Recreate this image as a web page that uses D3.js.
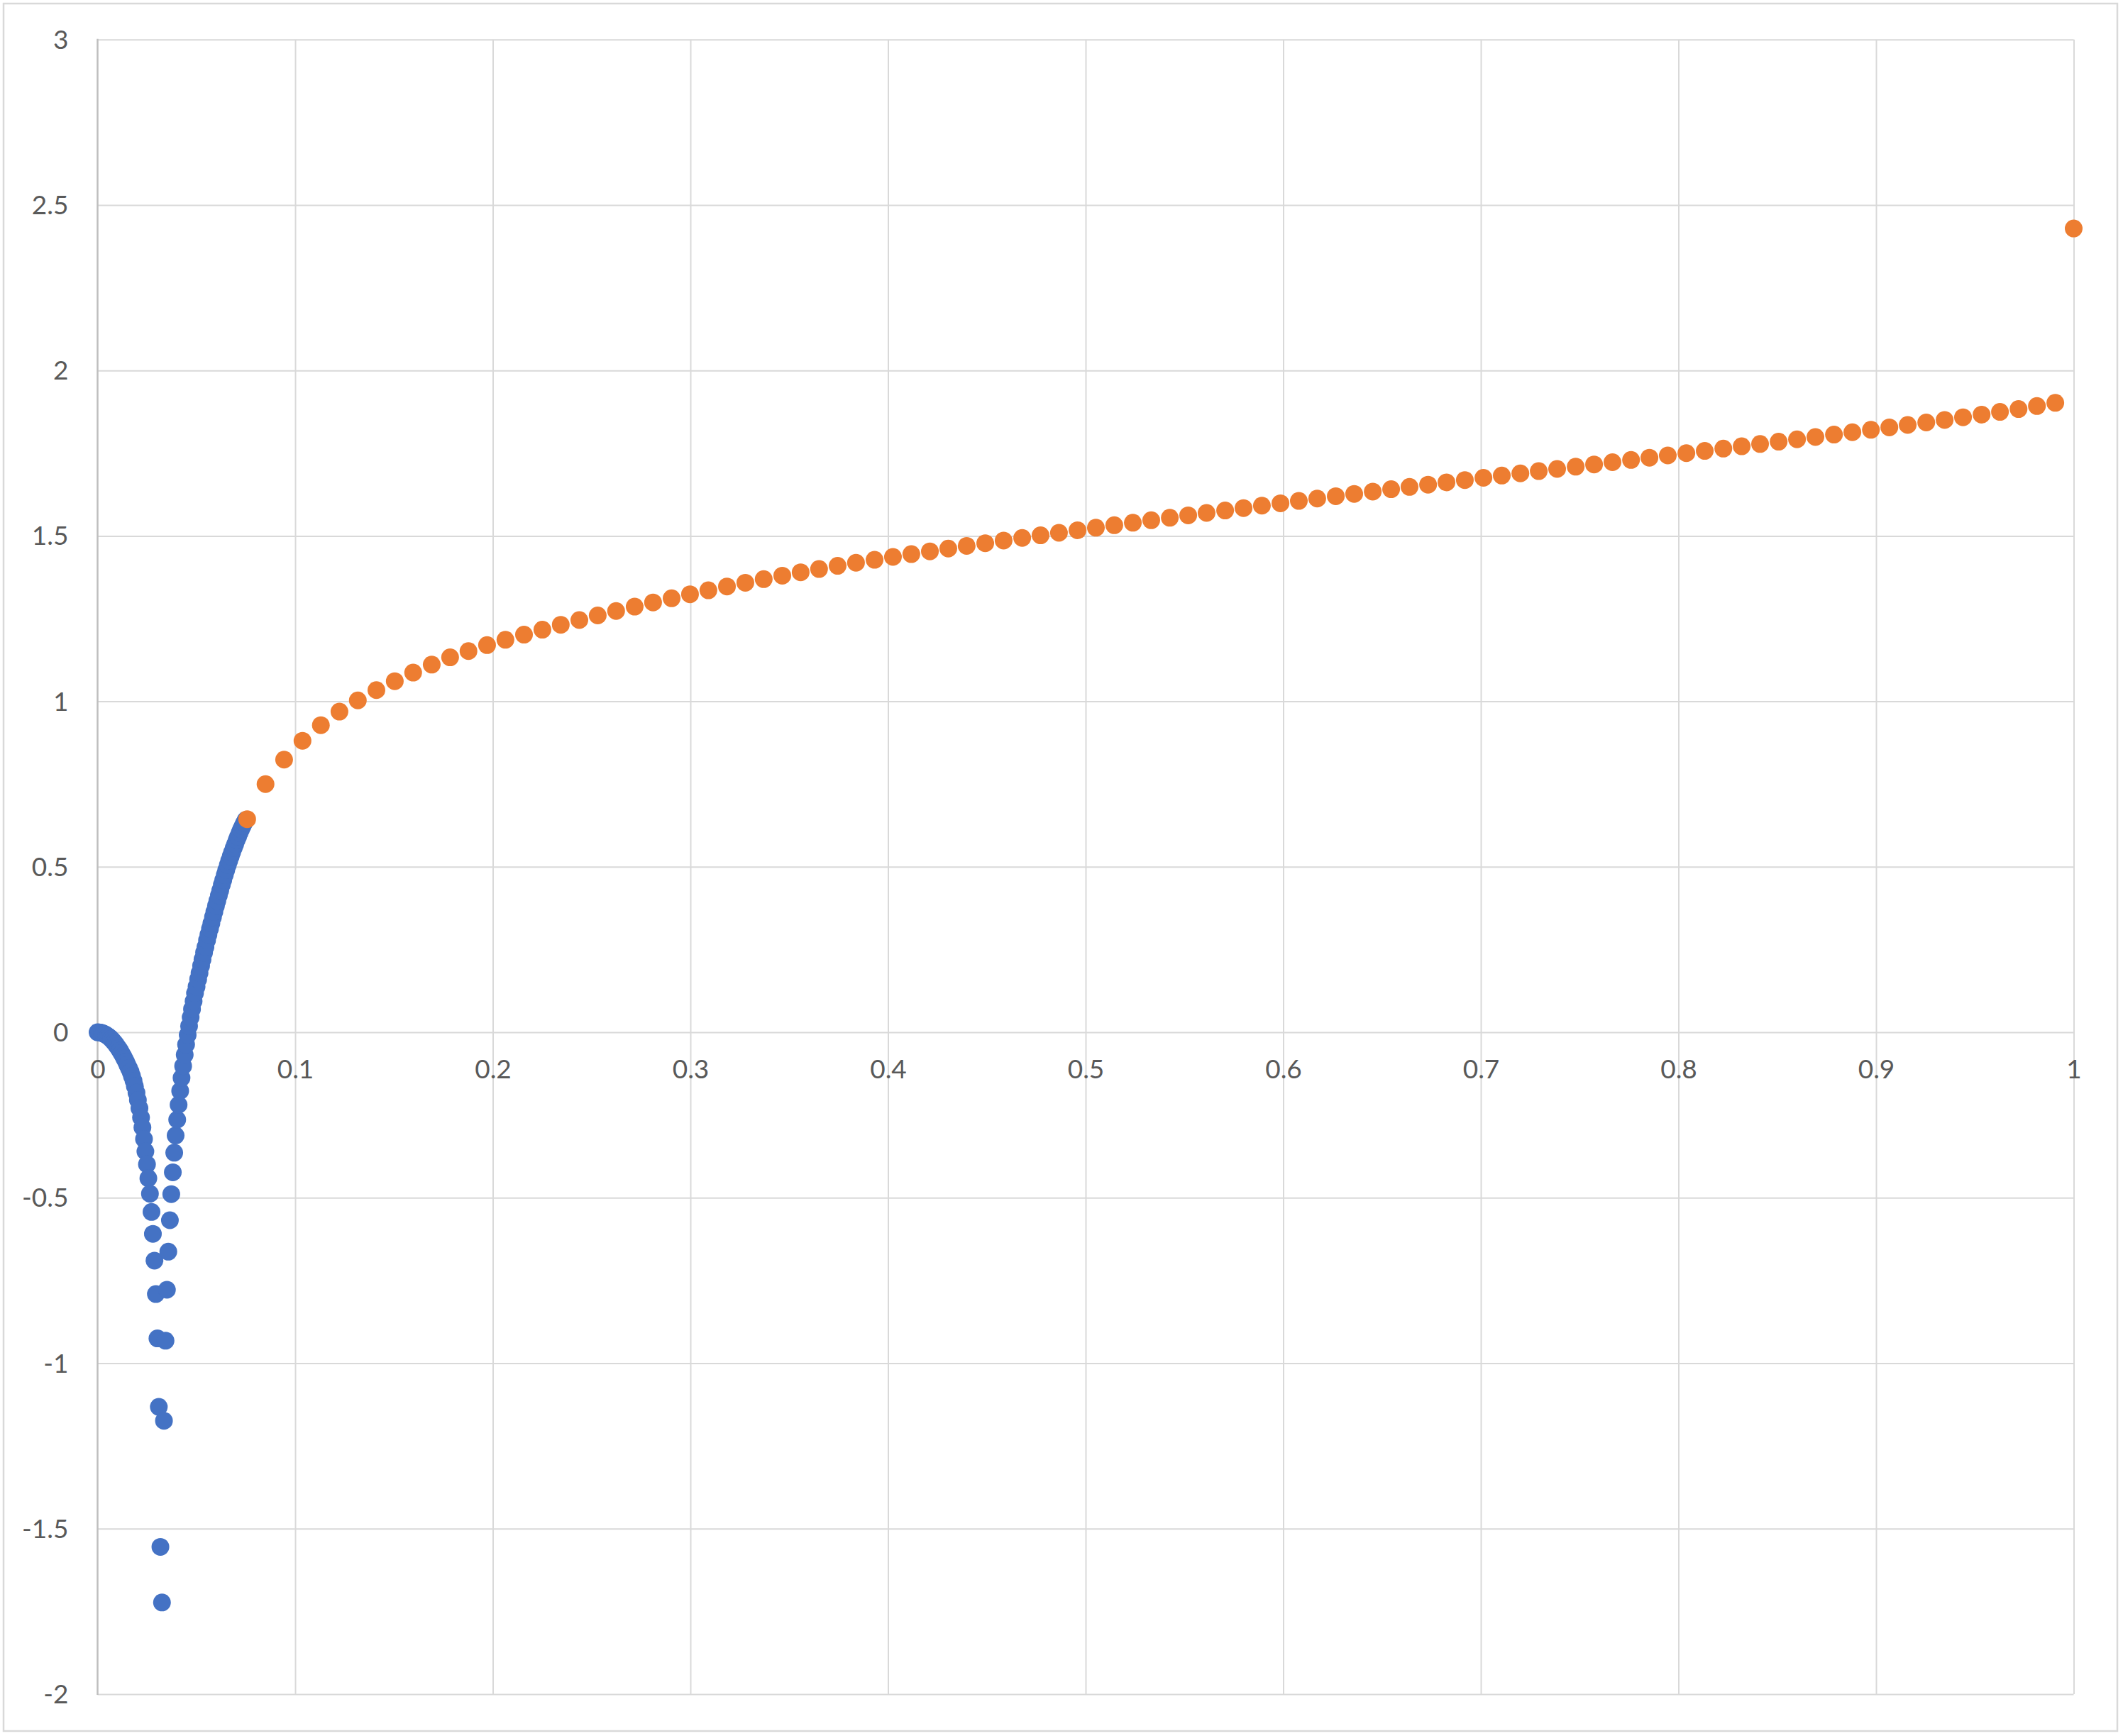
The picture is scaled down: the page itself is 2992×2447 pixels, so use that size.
<!DOCTYPE html>
<html>
<head>
<meta charset="utf-8">
<script src="https://cdn.jsdelivr.net/npm/d3@7"></script>
<style>
  html, body { margin: 0; padding: 0; background: #ffffff; }
  svg { display: block; }
</style>
</head>
<body>
<svg id="chart" width="2992" height="2447"></svg>
<script>
// ---- tick values and labels ----
const xTickValues = [0, 0.1, 0.2, 0.3, 0.4, 0.5, 0.6, 0.7, 0.8, 0.9, 1];
const xTickLabels = ["0", "0.1", "0.2", "0.3", "0.4", "0.5", "0.6", "0.7", "0.8", "0.9", "1"];
const yTickValues = [3, 2.5, 2, 1.5, 1, 0.5, 0, -0.5, -1, -1.5, -2];
const yTickLabels = ["3", "2.5", "2", "1.5", "1", "0.5", "0", "-0.5", "-1", "-1.5", "-2"];

// ---- series 1 (blue) ----
const blueX = [
  0.0000, 0.0008, 0.0015, 0.0023, 0.0030, 0.0038, 0.0045, 0.0053, 0.0061, 0.0068,
  0.0076, 0.0083, 0.0091, 0.0098, 0.0106, 0.0114, 0.0121, 0.0129, 0.0136, 0.0144,
  0.0151, 0.0159, 0.0167, 0.0174, 0.0182, 0.0189, 0.0197, 0.0204, 0.0212, 0.0220,
  0.0227, 0.0235, 0.0242, 0.0250, 0.0257, 0.0265, 0.0273, 0.0280, 0.0288, 0.0295,
  0.0303, 0.0310, 0.0318,
  0.0326, 0.0336, 0.0344, 0.0351, 0.0358, 0.0366, 0.0373, 0.0381, 0.0388, 0.0395,
  0.0403, 0.0410, 0.0418, 0.0425, 0.0433, 0.0441, 0.0448, 0.0456, 0.0463, 0.0471,
  0.0478, 0.0486, 0.0493, 0.0501, 0.0509, 0.0516, 0.0524, 0.0531, 0.0539, 0.0546,
  0.0554, 0.0561, 0.0569, 0.0576, 0.0584, 0.0591, 0.0599, 0.0606, 0.0614, 0.0621,
  0.0629, 0.0636, 0.0644, 0.0651, 0.0659, 0.0666, 0.0674, 0.0681, 0.0689, 0.0696,
  0.0704, 0.0711, 0.0719, 0.0726, 0.0734, 0.0741, 0.0749
];
const blueY = [
  0.0000, -0.0002, -0.0010, -0.0022, -0.0039, -0.0062, -0.0089, -0.0121, -0.0157, -0.0199,
  -0.0246, -0.0298, -0.0354, -0.0416, -0.0482, -0.0554, -0.0630, -0.0711, -0.0797, -0.0888,
  -0.0984, -0.1085, -0.1191, -0.1321, -0.1466, -0.1631, -0.1826, -0.2046, -0.2296, -0.2576,
  -0.2876, -0.3226, -0.3600, -0.399, -0.441, -0.488, -0.543, -0.609, -0.690, -0.791,
  -0.925, -1.132, -1.555,
  -1.723, -1.174, -0.932, -0.778, -0.663, -0.568, -0.489, -0.423, -0.364, -0.312,
  -0.264, -0.219, -0.177, -0.138, -0.102, -0.068, -0.037, -0.008, 0.019, 0.045,
  0.070, 0.094, 0.118, 0.138, 0.160, 0.179, 0.201, 0.220, 0.241, 0.258,
  0.278, 0.295, 0.313, 0.329, 0.348, 0.364, 0.382, 0.397, 0.414, 0.429,
  0.446, 0.460, 0.476, 0.490, 0.505, 0.518, 0.532, 0.544, 0.557, 0.568,
  0.581, 0.591, 0.603, 0.613, 0.623, 0.632, 0.641
];

// ---- series 2 (orange) ----
const orangeX = [
  0.0757, 0.0850, 0.0944, 0.1037, 0.1130, 0.1224, 0.1317, 0.1411, 0.1504, 0.1597,
  0.1691, 0.1784, 0.1877, 0.1971, 0.2064, 0.2158, 0.2251, 0.2344, 0.2438, 0.2531,
  0.2624, 0.2718, 0.2811, 0.2905, 0.2998, 0.3091, 0.3185, 0.3278, 0.3371, 0.3465,
  0.3558, 0.3651, 0.3745, 0.3838, 0.3932, 0.4025, 0.4118, 0.4212, 0.4305, 0.4398,
  0.4492, 0.4585, 0.4679, 0.4772, 0.4865, 0.4959, 0.5052, 0.5145, 0.5239, 0.5332,
  0.5426, 0.5519, 0.5612, 0.5706, 0.5799, 0.5892, 0.5986, 0.6079, 0.6172, 0.6266,
  0.6359, 0.6453, 0.6546, 0.6639, 0.6733, 0.6826, 0.6919, 0.7013, 0.7106, 0.7200,
  0.7293, 0.7386, 0.7480, 0.7573, 0.7666, 0.7760, 0.7853, 0.7946, 0.8040, 0.8133,
  0.8227, 0.8320, 0.8413, 0.8507, 0.8600, 0.8693, 0.8787, 0.8880, 0.8974, 0.9067,
  0.9160, 0.9254, 0.9347, 0.9440, 0.9534, 0.9627, 0.9721, 0.9814, 0.9907, 1.0000
];
const orangeY = [
  0.644, 0.750, 0.824, 0.881, 0.928, 0.969, 1.003, 1.034, 1.061, 1.087,
  1.111, 1.133, 1.152, 1.170, 1.186, 1.2016, 1.2167, 1.2314, 1.2457, 1.2596,
  1.2731, 1.2862, 1.2990, 1.3115, 1.3237, 1.3356, 1.3472, 1.3584, 1.3693, 1.3798,
  1.3900, 1.3999, 1.4095, 1.4188, 1.4278, 1.4365, 1.4450, 1.4534, 1.4617, 1.4699,
  1.4780, 1.4860, 1.4939, 1.5017, 1.5094, 1.5171, 1.5247, 1.5323, 1.5398, 1.5473,
  1.5547, 1.5621, 1.5695, 1.5768, 1.5841, 1.5914, 1.5986, 1.6058, 1.6129, 1.6200,
  1.6270, 1.6340, 1.6410, 1.6480, 1.6549, 1.6618, 1.6687, 1.6755, 1.6823, 1.6890,
  1.6957, 1.7024, 1.7091, 1.7159, 1.7227, 1.7295, 1.7363, 1.7431, 1.7500, 1.7569,
  1.7638, 1.7707, 1.7777, 1.7847, 1.7918, 1.7989, 1.8061, 1.8133, 1.8206, 1.8279,
  1.8353, 1.8428, 1.8505, 1.8584, 1.8665, 1.8748, 1.8834, 1.8924, 1.9020, 2.429
];

// ---- layout ----
const W = 2992, H = 2447;
const plotLeft = 137.5, plotRight = 2922.5, plotTop = 55.7, plotBottom = 2388;
const FONT = "Lato, 'Open Sans', 'Liberation Sans', sans-serif";
const LABEL_COLOR = "#595959";
const GRID_COLOR = "#d9d9d9";

const svg = d3.select("#chart");

svg.append("rect")
  .attr("x", 5).attr("y", 5)
  .attr("width", W - 10 - 3).attr("height", H - 10 - 2)
  .attr("fill", "#ffffff")
  .attr("stroke", "#d9d9d9")
  .attr("stroke-width", 2.5);

const x = d3.scaleLinear().domain([0, 1]).range([plotLeft, plotRight]);
const y = d3.scaleLinear().domain([-2, 3]).range([plotBottom, plotTop]);

// horizontal gridlines
const gy = svg.append("g")
  .attr("transform", `translate(${plotLeft},0)`)
  .call(d3.axisLeft(y).tickValues(yTickValues).tickSize(-(plotRight - plotLeft)).tickFormat(""));
gy.select(".domain").remove();
gy.selectAll("line").attr("stroke", GRID_COLOR).attr("stroke-width", 2);

// vertical gridlines (skip x=0, drawn as axis line)
const gx = svg.append("g")
  .attr("transform", `translate(0,${plotBottom})`)
  .call(d3.axisBottom(x).tickValues(xTickValues.filter(v => v !== 0)).tickSize(-(plotBottom - plotTop)).tickFormat(""));
gx.select(".domain").remove();
gx.selectAll("line").attr("stroke", GRID_COLOR).attr("stroke-width", 2);

// vertical axis line at x = 0
svg.append("line")
  .attr("x1", x(0)).attr("x2", x(0))
  .attr("y1", y(3) - 1).attr("y2", y(-2) + 1)
  .attr("stroke", "#bfbfbf")
  .attr("stroke-width", 2.5);

// y tick labels
const yLab = svg.append("g")
  .attr("transform", `translate(${plotLeft},0)`)
  .call(d3.axisLeft(y).tickValues(yTickValues).tickSize(0).tickPadding(41)
    .tickFormat((d, i) => yTickLabels[i]));
yLab.select(".domain").remove();
yLab.selectAll("text")
  .attr("font-family", FONT).attr("font-size", 37).attr("fill", LABEL_COLOR)
  .attr("dy", "0.34em");

// x tick labels (along y = 0)
const xLab = svg.append("g")
  .attr("transform", `translate(0,${y(0)})`)
  .call(d3.axisBottom(x).tickValues(xTickValues).tickSize(0).tickPadding(39)
    .tickFormat((d, i) => xTickLabels[i]));
xLab.select(".domain").remove();
xLab.selectAll("text")
  .attr("font-family", FONT).attr("font-size", 37).attr("fill", LABEL_COLOR);

// markers
const R = 12.5;
const blueData = blueX.map((v, i) => ({ x: v, y: blueY[i] }));
const orangeData = orangeX.map((v, i) => ({ x: v, y: orangeY[i] }));

svg.append("g").selectAll("circle").data(blueData).join("circle")
  .attr("cx", d => x(d.x)).attr("cy", d => y(d.y)).attr("r", R)
  .attr("fill", "#4472c4");

svg.append("g").selectAll("circle").data(orangeData).join("circle")
  .attr("cx", d => x(d.x)).attr("cy", d => y(d.y)).attr("r", R)
  .attr("fill", "#ed7d31");
</script>
</body>
</html>
